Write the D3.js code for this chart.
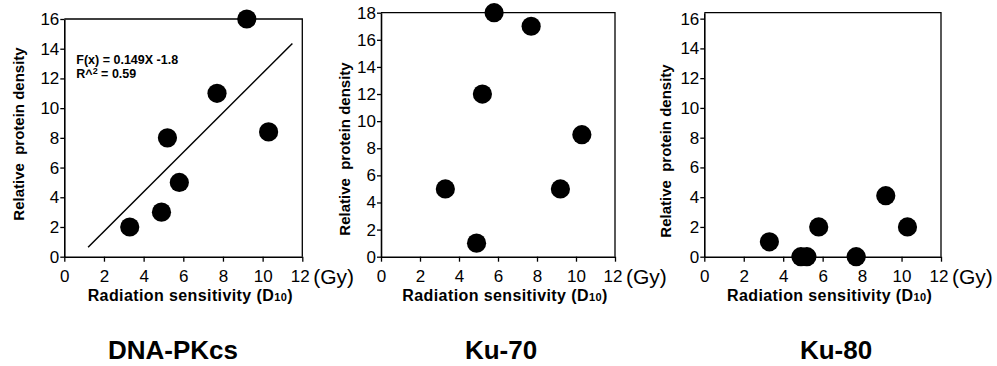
<!DOCTYPE html>
<html>
<head>
<meta charset="utf-8">
<script src="https://cdn.jsdelivr.net/npm/d3@7"></script>
<style>
  body { margin: 0; background: #fff; }
  text { font-family: "Liberation Sans", Arial, Helvetica, sans-serif; fill: #000; }
</style>
</head>
<body>
<div id="chart"></div>
<script>
// radiation sensitivity (D10, Gy) of the seven cell lines
let sensitivity = [3.3, 4.9, 5.2, 5.8, 7.7, 9.2, 10.3];
// relative protein density per protein
let dnaPkcs = [2, 3, 8, 5, 11, 16, 8.4];
let ku70 = [5, 1, 12, 18, 17, 5, 9];
let ku80 = [1, 0, 0, 2, 0, 4.1, 2];
let proteins = ["DNA-PKcs", "Ku-70", "Ku-80"];
let xTicks = [0, 2, 4, 6, 8, 10, 12];
let yTicks = [[0, 2, 4, 6, 8, 10, 12, 14, 16], [0, 2, 4, 6, 8, 10, 12, 14, 16, 18], [0, 2, 4, 6, 8, 10, 12, 14, 16]];
let yMax = [16, 18, 16.4];
// regression line for DNA-PKcs
let fitX = [1.2, 11.5];
let fitY = [0.63, 14.35];
let fitText = ["F(x) = 0.149X -1.8", "R^", "2", " = 0.59"];

let width = 997, height = 366;
// plot boxes [left, top, right, bottom] in pixels
let boxes = [[64.3, 19, 302.3, 256.7], [381, 12.7, 615, 256.7], [704.3, 12.7, 941, 256.7]];
let yLabelPos = [[24, 134], [350, 149], [671, 151]];
let titleX = [173, 501, 836];

const svg = d3.select("#chart").append("svg")
  .attr("width", width)
  .attr("height", height);

let series = [dnaPkcs, ku70, ku80];

proteins.forEach(function (name, i) {
  let b = boxes[i];
  let x = d3.scaleLinear().domain([0, 12]).range([b[0], b[2]]);
  let y = d3.scaleLinear().domain([0, yMax[i]]).range([b[3], b[1]]);
  const g = svg.append("g");

  // frame (top and right)
  g.append("path")
    .attr("d", "M" + x(0) + "," + y(yMax[i]) + "H" + x(12) + "V" + y(0))
    .attr("fill", "none")
    .attr("stroke", "#000")
    .attr("stroke-width", 1.3);

  const xAxis = g.append("g")
    .attr("transform", "translate(0," + y(0) + ")")
    .call(d3.axisBottom(x).tickValues(xTicks).tickSize(5).tickPadding(8).tickSizeOuter(0));
  const yAxis = g.append("g")
    .attr("transform", "translate(" + x(0) + ",0)")
    .call(d3.axisLeft(y).tickValues(yTicks[i]).tickSize(4).tickPadding(1).tickSizeOuter(0));
  [xAxis, yAxis].forEach(function (a) {
    a.attr("font-size", null).attr("font-family", null);
    a.select(".domain").attr("stroke-width", 1.6);
    a.selectAll(".tick line").attr("stroke-width", 1.3);
    a.selectAll(".tick text").style("font-size", "17px").attr("fill", "#000");
  });
  xAxis.selectAll(".tick text").filter(d => d === 12).attr("dx", "-0.15em");

  // unit
  g.append("text")
    .attr("x", x(12) + 11)
    .attr("y", y(0) + 27)
    .style("font-size", "21px")
    .text("(Gy)");

  // x label
  const xl = g.append("text")
    .attr("x", (b[0] + b[2]) / 2 + 7)
    .attr("y", y(0) + 44)
    .attr("text-anchor", "middle")
    .style("font-size", "16px")
    .style("letter-spacing", "0.4px")
    .style("font-weight", "bold");
  xl.append("tspan").text("Radiation sensitivity (D");
  xl.append("tspan").style("font-size", "11px").text("10");
  xl.append("tspan").text(")");

  // y label
  g.append("text")
    .attr("transform", "translate(" + yLabelPos[i][0] + "," + yLabelPos[i][1] + ") rotate(-90)")
    .attr("text-anchor", "middle")
    .style("font-size", "15px")
    .style("font-weight", "bold")
    .style("white-space", "pre")
    .text("Relative  protein density");

  // title
  g.append("text")
    .attr("x", titleX[i])
    .attr("y", 359)
    .attr("text-anchor", "middle")
    .style("font-size", "26px")
    .style("font-weight", "bold")
    .text(name);

  if (i === 0) {
    g.append("line")
      .attr("x1", x(fitX[0])).attr("y1", y(fitY[0]))
      .attr("x2", x(fitX[1])).attr("y2", y(fitY[1]))
      .attr("stroke", "#000")
      .attr("stroke-width", 1.5);
    g.append("text")
      .attr("x", x(0) + 12)
      .attr("y", b[1] + 45)
      .style("font-size", "12.5px")
      .style("font-weight", "bold")
      .text(fitText[0]);
    const r2 = g.append("text")
      .attr("x", x(0) + 12)
      .attr("y", b[1] + 58.5)
      .style("font-size", "12.5px")
      .style("font-weight", "bold");
    r2.append("tspan").text(fitText[1]);
    r2.append("tspan").style("font-size", "9px").attr("dy", "-4").text(fitText[2]);
    r2.append("tspan").attr("dy", "4").text(fitText[3]);
  }

  // points
  g.selectAll("circle")
    .data(series[i])
    .join("circle")
    .attr("cx", (d, j) => x(sensitivity[j]))
    .attr("cy", d => y(d))
    .attr("r", 9.6)
    .attr("fill", "#000");
});
</script>
</body>
</html>
